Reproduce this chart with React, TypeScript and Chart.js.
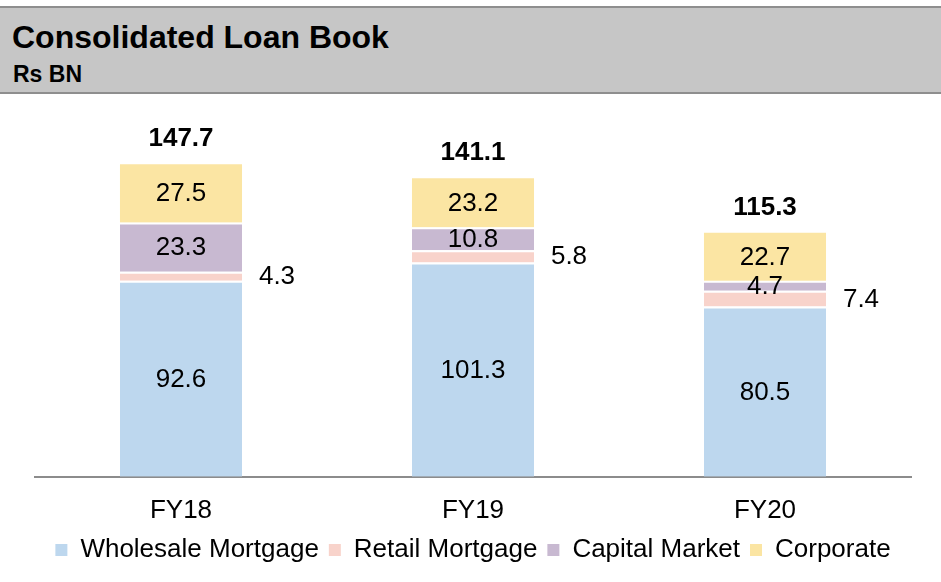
import React, { useEffect, useRef } from "react";
import { Chart, registerables } from "chart.js";

Chart.register(...registerables);

const categories = ["FY18", "FY19", "FY20"];
const wholesaleMortgage = [92.6, 101.3, 80.5];
const retailMortgage = [4.3, 5.8, 7.4];
const capitalMarket = [23.3, 10.8, 4.7];
const corporate = [27.5, 23.2, 22.7];
const seriesNames = ["Wholesale Mortgage", "Retail Mortgage", "Capital Market", "Corporate"];
const seriesColors = ["#BDD7EE", "#F8D3CB", "#C8B9D1", "#FBE5A3"];

const FONT = "'Liberation Sans', Arial, sans-serif";

const labelPlugin = {
  id: "valueLabels",
  afterDatasetsDraw(chart: any) {
    const ctx = chart.ctx;
    ctx.save();
    ctx.textAlign = "center";
    ctx.textBaseline = "middle";
    ctx.fillStyle = "#000";
    const n = chart.data.labels.length;
    chart.data.datasets.forEach((ds: any, di: number) => {
      const meta = chart.getDatasetMeta(di);
      meta.data.forEach((bar: any, i: number) => {
        const v = ds.data[i];
        const cy = (bar.y + bar.base) / 2;
        ctx.font = `26px ${FONT}`;
        if (di === 1) {
          ctx.fillText(v.toFixed(1), bar.x + 96, cy + 1);
        } else {
          ctx.fillText(v.toFixed(1), bar.x, cy + 1);
        }
      });
    });
    const lastMeta = chart.getDatasetMeta(chart.data.datasets.length - 1);
    for (let i = 0; i < n; i++) {
      let total = 0;
      chart.data.datasets.forEach((ds: any) => (total += ds.data[i]));
      const bar: any = lastMeta.data[i];
      ctx.font = `bold 26px ${FONT}`;
      ctx.textBaseline = "alphabetic";
      ctx.fillText(total.toFixed(1), bar.x, bar.y - 18);
    }
    ctx.restore();
  },
};

export default function App() {
  const ref = useRef<HTMLCanvasElement | null>(null);
  useEffect(() => {
    if (!ref.current) return;
    const series = [wholesaleMortgage, retailMortgage, capitalMarket, corporate];
    const chart = new Chart(ref.current, {
      type: "bar",
      data: {
        labels: categories,
        datasets: series.map((d, i) => ({
          label: seriesNames[i],
          data: d,
          backgroundColor: seriesColors[i],
          borderColor: "#FFFFFF",
          borderWidth: i < 3 ? { top: 2, left: 0, right: 0, bottom: 0 } : 0,
          borderSkipped: false,
          barPercentage: 0.418,
          categoryPercentage: 1,
        })),
      },
      options: {
        animation: false,
        responsive: false,
        maintainAspectRatio: false,
        layout: { padding: { left: 35, right: 30, top: 117, bottom: 9 } },
        scales: {
          x: {
            stacked: true,
            grid: { display: false, drawTicks: false },
            border: { display: true, color: "#8C8C8C", width: 2 },
            ticks: { color: "#000", font: { family: FONT, size: 26 }, padding: 18 },
            afterFit: (s: any) => {
              s.height = s.height - 17;
            },
          },
          y: {
            stacked: true,
            display: false,
            min: 0,
            max: 170,
          },
        },
        plugins: {
          legend: {
            position: "bottom",
            labels: {
              color: "#000",
              font: { family: FONT, size: 26 },
              boxWidth: 12,
              boxHeight: 12,
              padding: 10,
              generateLabels: (c: any) =>
                Chart.defaults.plugins.legend.labels
                  .generateLabels(c)
                  .map((l: any) => ({ ...l, lineWidth: 0, strokeStyle: "rgba(0,0,0,0)" })),
            },
          },
          tooltip: { enabled: false },
          title: { display: false },
        },
      },
      plugins: [labelPlugin],
    });
    return () => chart.destroy();
  }, []);

  return (
    <div style={{ position: "absolute", left: 0, top: 0, width: 941, height: 582, background: "#fff" }}>
      <canvas ref={ref} width={941} height={582} style={{ position: "absolute", left: 0, top: 0, width: 941, height: 582 }} />
      <div
        style={{
          position: "absolute",
          left: 0,
          top: 6,
          width: 941,
          height: 84,
          background: "#C6C6C6",
          borderTop: "2px solid #8E8E8E",
          borderBottom: "2px solid #8E8E8E",
          fontFamily: FONT,
          color: "#000",
        }}
      >
        <div style={{ position: "absolute", left: 12, top: 13, fontSize: 32, lineHeight: "32px", fontWeight: "bold", whiteSpace: "nowrap" }}>
          Consolidated Loan Book
        </div>
        <div style={{ position: "absolute", left: 13, top: 55, fontSize: 23, lineHeight: "23px", fontWeight: "bold", whiteSpace: "nowrap" }}>
          Rs BN
        </div>
      </div>
    </div>
  );
}
